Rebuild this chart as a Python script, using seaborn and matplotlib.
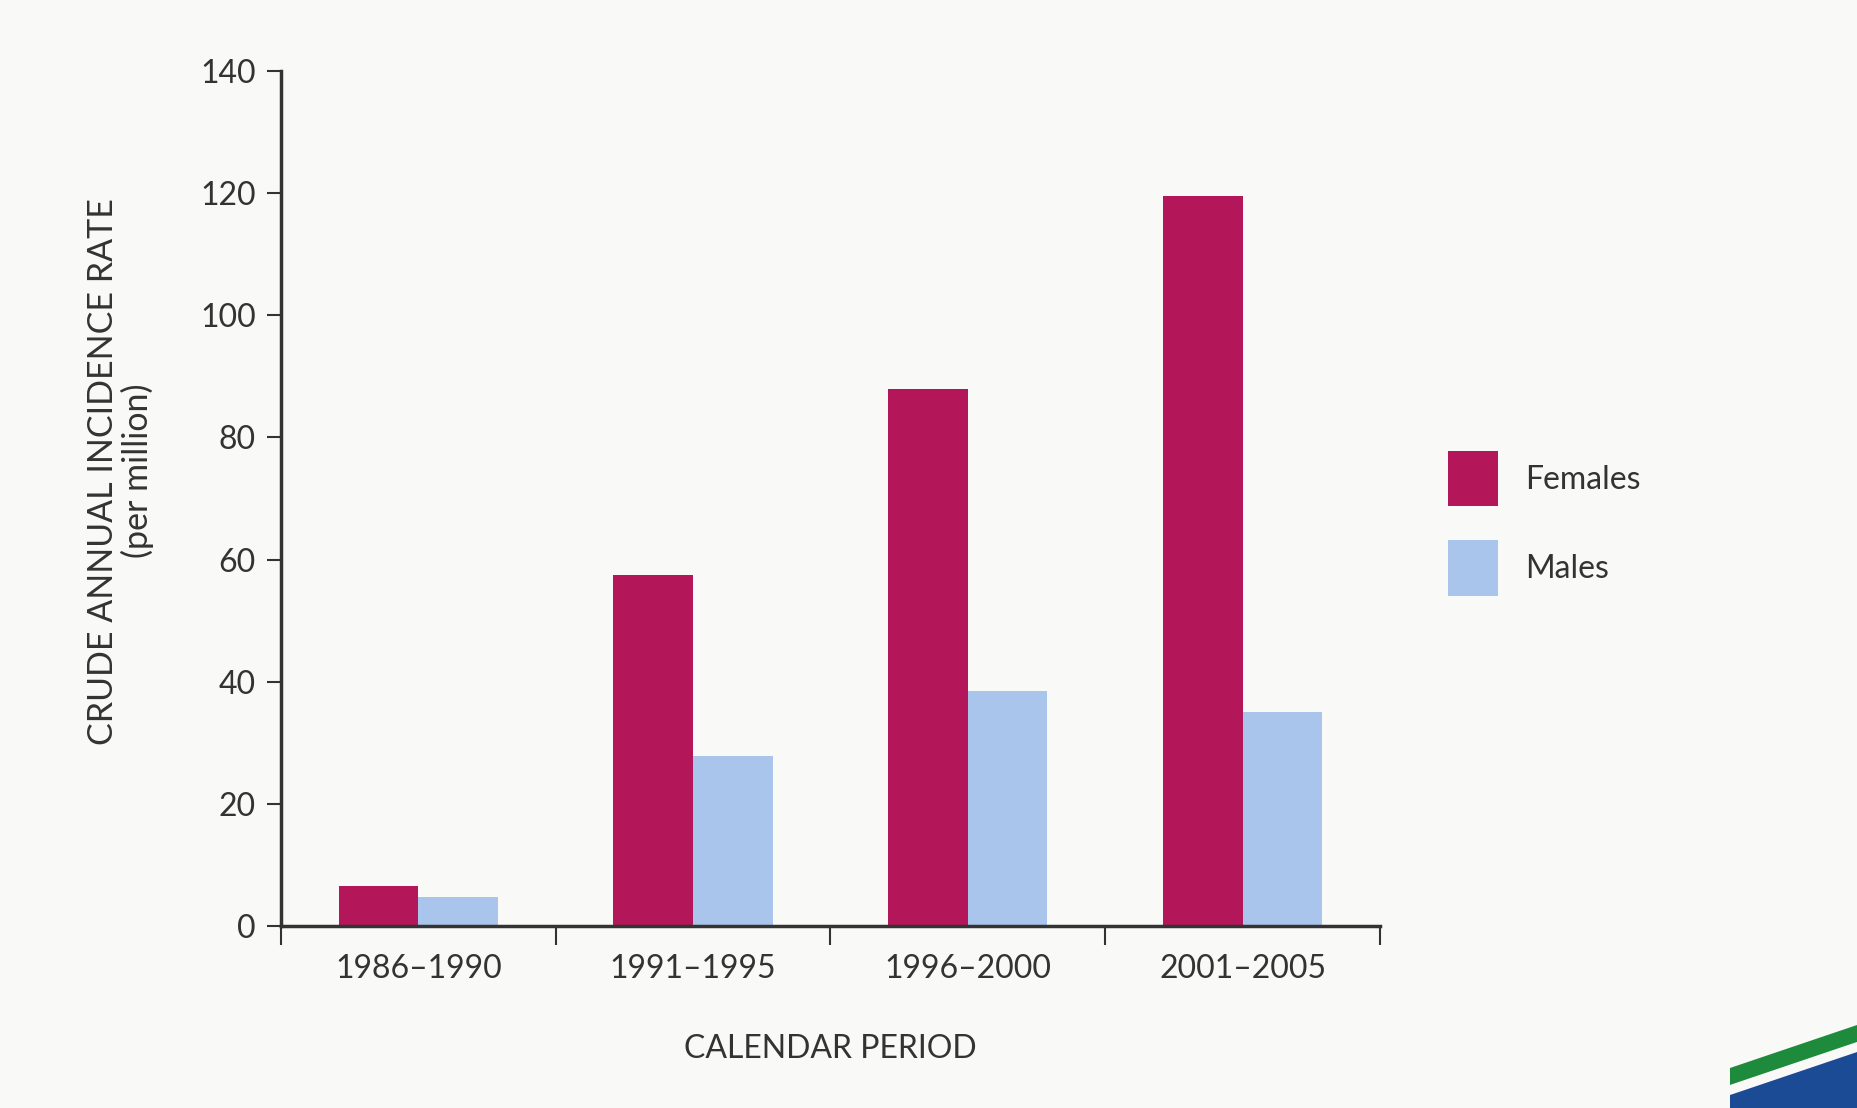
import matplotlib
matplotlib.use("Agg")
import matplotlib.pyplot as plt
from matplotlib.patches import Patch, Polygon
import pandas as pd
import seaborn as sns

# data
periods = ["1986–1990", "1991–1995", "1996–2000", "2001–2005"]
females = [6.5, 57.5, 88, 119.5]
males = [4.8, 27.8, 38.5, 35]
series = ["Females", "Males"]
colors = ["#B3175A", "#A9C5EC"]

sns.set_theme(style="white")
plt.rcParams["font.family"] = ["Lato", "DejaVu Sans"]
txt = "#333333"

df = pd.DataFrame({
    "period": periods * 2,
    "rate": females + males,
    "sex": ["Females"] * 4 + ["Males"] * 4,
})

fig = plt.figure(figsize=(18.57, 11.08), dpi=100, facecolor="#F9F9F7")
ax = fig.add_axes([0.1513, 0.1643, 0.5918, 0.7716])
ax.set_facecolor("#F9F9F7")

sns.barplot(data=df, x="period", y="rate", hue="sex", palette=colors,
            width=0.58, gap=0, saturation=1, linewidth=0, ax=ax, legend=False)

ax.set_xlim(-0.5, 3.5)
ax.set_ylim(0, 140)
ax.set_yticks(range(0, 141, 20))
ax.set_xticks(range(4))
ax.set_xticklabels(periods)
ax.set_xticks([-0.5, 0.5, 1.5, 2.5, 3.5], minor=True)
ax.tick_params(axis="x", which="major", bottom=True, length=0, pad=20, labelsize=23, labelcolor=txt)
ax.tick_params(axis="x", which="minor", bottom=True, length=14, width=1.5, color=txt, direction="out")
ax.tick_params(axis="y", left=True, length=10, width=1.5, color=txt, pad=8, labelsize=23, labelcolor=txt)

for s in ["top", "right"]:
    ax.spines[s].set_visible(False)
for s in ["left", "bottom"]:
    ax.spines[s].set_color(txt)
    ax.spines[s].set_linewidth(2.5)

ax.set_xlabel("CALENDAR PERIOD", fontsize=23, color=txt, labelpad=36)
ax.set_ylabel("CRUDE ANNUAL INCIDENCE RATE\n(per million)", fontsize=24.5, color=txt,
              labelpad=33, linespacing=1.1, y=0.532)

handles = [Patch(facecolor=c, edgecolor="none") for c in colors]
fig.legend(handles, series, loc="upper left", bbox_to_anchor=(0.771, 0.6075),
           frameon=False, fontsize=23, handlelength=1.56, handleheight=2.3,
           labelspacing=1.05, handletextpad=0.85, borderpad=0, labelcolor=txt)

# decorative corner stripes
fig.patches.append(Polygon([[0.9316, 0.0], [1.0, 0.0], [1.0, 0.0505], [0.9316, 0.0117]],
                           closed=True, transform=fig.transFigure, facecolor="#1B4B94", edgecolor="none"))
fig.patches.append(Polygon([[0.9316, 0.0208], [1.0, 0.0596], [1.0, 0.0749], [0.9316, 0.0361]],
                           closed=True, transform=fig.transFigure, facecolor="#1E8A3C", edgecolor="none"))

fig.savefig("out.png", dpi=100, facecolor=fig.get_facecolor())
